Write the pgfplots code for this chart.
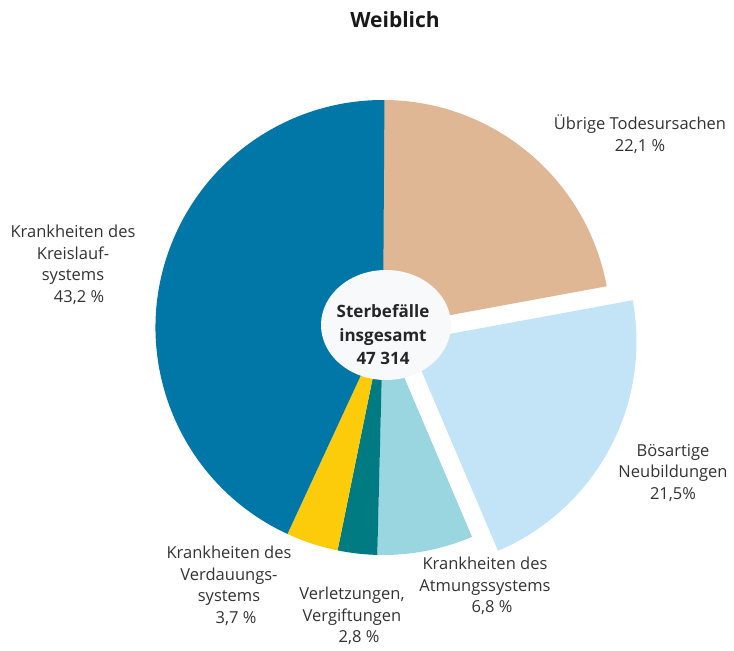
\documentclass[border=0pt]{standalone}
\usepackage{pgfplots}
\pgfplotsset{compat=1.18}
\usepackage{pgfplotstable}
\usepackage{fontspec}
\setmainfont{Open Sans}

\definecolor{cUebrig}{HTML}{E0B794}
\definecolor{cBoes}{HTML}{C2E4F6}
\definecolor{cAtmung}{HTML}{99D6DF}
\definecolor{cVerletz}{HTML}{007B82}
\definecolor{cVerdau}{HTML}{FCCB0A}
\definecolor{cKreis}{HTML}{0077A7}
\definecolor{cCenter}{HTML}{F7F9FB}
\definecolor{cText}{HTML}{333333}

% Anteile in Prozent, im Uhrzeigersinn ab 12 Uhr
\pgfplotstableread{
value explode color
22.1  0 cUebrig
21.5  1 cBoes
6.8   0 cAtmung
2.8   0 cVerletz
3.7   0 cVerdau
43.2  0 cKreis
}\piedata

\newcommand{\lbl}{\fontsize{16.5bp}{21.5bp}\selectfont}

\begin{document}
\begin{tikzpicture}
\begin{axis}[
  scale only axis,
  width=734bp, height=651bp,
  xmin=0, xmax=734, ymin=0, ymax=651,
  hide axis, clip=false,
]
% keep the full canvas as bounding box
\path (axis cs:0,0) rectangle (axis cs:734,651);

\pgfmathsetmacro\startang{90}
\pgfplotsforeachungrouped \i in {0,...,5}{%
  \pgfplotstablegetelem{\i}{value}\of\piedata \let\val\pgfplotsretval
  \pgfplotstablegetelem{\i}{explode}\of\piedata \let\ex\pgfplotsretval
  \pgfplotstablegetelem{\i}{color}\of\piedata \let\col\pgfplotsretval
  \pgfmathsetmacro\endang{\startang-3.6*\val}
  \pgfmathsetmacro\midang{(\startang+\endang)/2}
  \pgfmathsetmacro\cx{383+\ex*29.5*cos(\midang)}
  \pgfmathsetmacro\cy{323.5+\ex*29.5*sin(\midang)}
  \edef\slice{\noexpand\fill[\col] (axis cs:\cx,\cy) -- ++(\startang:227.5bp)
    arc[start angle=\startang, end angle=\endang, radius=227.5bp] -- cycle;}%
  \slice
  \let\startang\endang
}

\fill[cCenter] (axis cs:386,326) ellipse [x radius=65bp, y radius=55bp];
\node[align=center, text=black!85, font=\fontsize{17bp}{23.5bp}\selectfont\bfseries]
  at (axis cs:383,316) {Sterbefälle\\insgesamt\\47 314};

\node[text=black!90, font=\fontsize{21bp}{25bp}\selectfont\bfseries]
  at (axis cs:395,631) {Weiblich};

\node[align=center, text=cText, font=\lbl] at (axis cs:640,517)
  {Übrige Todesursachen\\22,1 \%};
\node[align=center, text=cText, font=\lbl] at (axis cs:673,178)
  {Bösartige\\Neubildungen\\21,5\%};
\node[align=center, text=cText, font=\lbl] at (axis cs:485,65)
  {Krankheiten des\\Atmungssystems\\\hspace*{14bp}6,8 \%};
\node[align=center, text=cText, font=\lbl] at (axis cs:352,35)
  {Verletzungen,\\Vergiftungen\\\hspace*{14bp}2,8 \%};
\node[align=center, text=cText, font=\lbl] at (axis cs:229,65)
  {Krankheiten des\\Verdauungs-\\systems\\\hspace*{14bp}3,7 \%};
\node[align=center, text=cText, font=\lbl] at (axis cs:73,386)
  {Krankheiten des\\Kreislauf-\\systems\\\hspace*{12bp}43,2 \%};
\end{axis}
\end{tikzpicture}
\end{document}
